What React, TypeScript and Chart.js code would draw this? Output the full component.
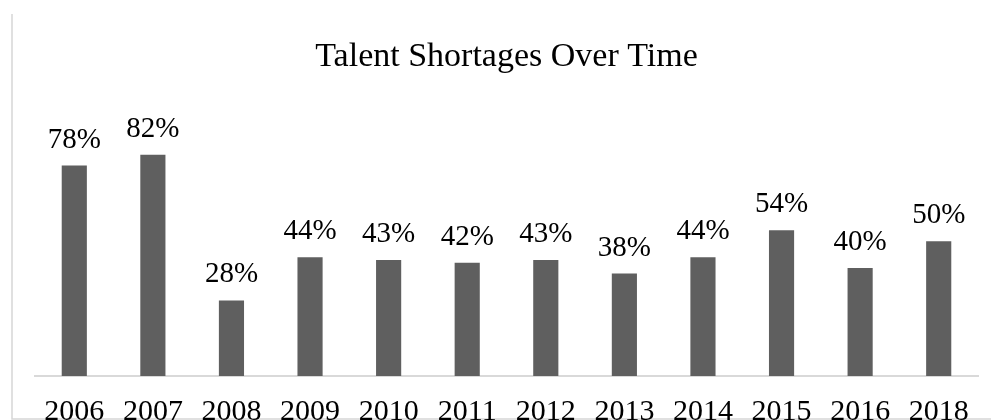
import React, { useEffect, useRef } from "react";
import { Chart, registerables } from "chart.js";

Chart.register(...registerables);

const years = ["2006", "2007", "2008", "2009", "2010", "2011", "2012", "2013", "2014", "2015", "2016", "2018"];
const shortages = [78, 82, 28, 44, 43, 42, 43, 38, 44, 54, 40, 50];
const titleText = "Talent Shortages Over Time";

const FONT = "'Liberation Serif', 'Times New Roman', serif";

const framePlugin = {
  id: "frame",
  beforeDraw(chart: any) {
    const ctx = chart.ctx;
    ctx.save();
    ctx.fillStyle = "#ffffff";
    ctx.fillRect(0, 0, chart.width, chart.height);
    ctx.strokeStyle = "#d6d6d6";
    ctx.lineWidth = 1.5;
    ctx.beginPath();
    ctx.moveTo(12, 14);
    ctx.lineTo(12, 419);
    ctx.lineTo(chart.width, 419);
    ctx.stroke();
    ctx.restore();
  },
};

const labelPlugin = {
  id: "valueLabels",
  afterDatasetsDraw(chart: any) {
    const ctx = chart.ctx;
    const meta = chart.getDatasetMeta(0);
    const data = chart.data.datasets[0].data;
    ctx.save();
    ctx.font = `29px ${FONT}`;
    ctx.fillStyle = "#000000";
    ctx.textAlign = "center";
    ctx.textBaseline = "alphabetic";
    meta.data.forEach((bar: any, i: number) => {
      ctx.fillText(`${data[i]}%`, bar.x, bar.y - 18);
    });
    ctx.restore();
  },
};

export default function App() {
  const ref = useRef<HTMLCanvasElement | null>(null);
  useEffect(() => {
    if (!ref.current) return;
    const chart = new Chart(ref.current, {
      type: "bar",
      data: {
        labels: years,
        datasets: [
          {
            data: shortages,
            backgroundColor: "#5f5f5f",
            barPercentage: 0.32,
            categoryPercentage: 1,
          },
        ],
      },
      options: {
        animation: false,
        responsive: false,
        maintainAspectRatio: false,
        layout: { padding: { left: 35, right: 13, top: 0, bottom: -28 } },
        plugins: {
          legend: { display: false },
          tooltip: { enabled: false },
          title: {
            display: true,
            text: titleText,
            color: "#000000",
            font: { family: FONT, size: 34, weight: "normal" },
            padding: { top: 37, bottom: 15 },
          },
        },
        scales: {
          x: {
            grid: { display: false, drawTicks: false },
            border: { display: true, color: "#d9d9d9", width: 2 },
            ticks: {
              color: "#000000",
              font: { family: FONT, size: 30 },
              padding: 18,
              maxRotation: 0,
              autoSkip: false,
            },
          },
          y: {
            display: false,
            min: 0,
            max: 105,
          },
        },
      },
      plugins: [framePlugin, labelPlugin],
    });
    return () => chart.destroy();
  }, []);
  return (
    <div style={{ position: "fixed", left: 0, top: 0, width: 991, height: 420 }}>
      <canvas ref={ref} width={991} height={420} />
    </div>
  );
}
